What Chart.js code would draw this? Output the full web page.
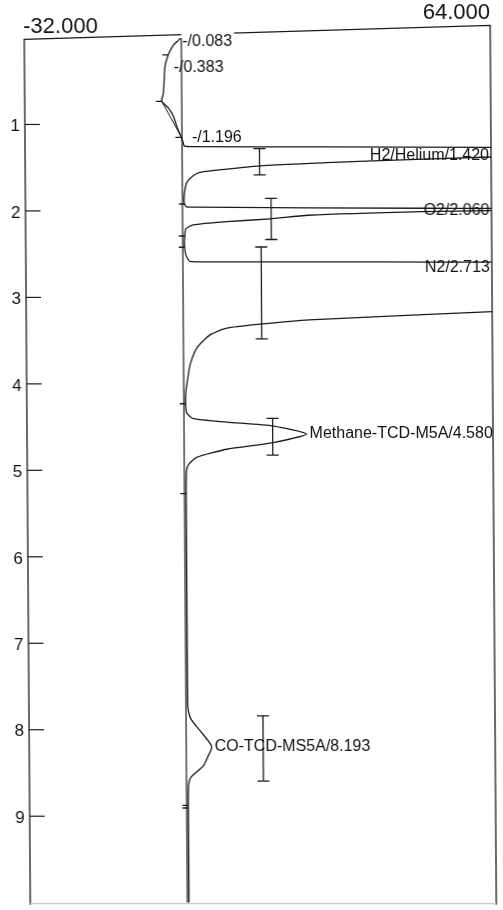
<!DOCTYPE html>
<html>
<head>
<meta charset="utf-8">
<script src="https://cdn.jsdelivr.net/npm/chart.js@4.4.1/dist/chart.umd.min.js"></script>
<style>
  html, body { margin: 0; padding: 0; background: #fff; overflow: hidden; }
  /* the recorder paper sits slightly askew */
  canvas { display: block; transform: skewX(0.4deg); transform-origin: 0 0; }
</style>
</head>
<body>
<canvas id="chart" width="503" height="910"></canvas>
<script>
const FONT = "'Liberation Sans', Arial, Helvetica, sans-serif";
const INK = '#1b1b1b';

// recorder ranges: signal (horizontal) and retention time in minutes (vertical)
const signalRange = [-32, 64];
const timeRange = [0, 10];

// detector trace: retention time (min) and signal
const traceTime = [
  0.000, 0.040, 0.083, 0.195, 0.330, 0.500, 0.636, 0.732, 0.808, 0.905,
  1.020, 1.134, 1.207, 1.248, 1.256, 1.260, 1.264, 1.268, 1.372, 1.376,
  1.422, 1.479, 1.537, 1.555, 1.594, 1.670, 1.785, 1.900, 1.950, 1.957,
  1.969, 1.971, 1.973, 1.995, 1.997, 2.008, 2.050, 2.092, 2.123, 2.161,
  2.207, 2.287, 2.400, 2.514, 2.583, 2.588, 2.590, 2.592, 2.594, 3.160,
  3.164, 3.260, 3.310, 3.356, 3.433, 3.586, 3.778, 3.969, 4.084, 4.200,
  4.334, 4.403, 4.442, 4.488, 4.580, 4.679, 4.756, 4.851, 4.928, 5.005,
  5.300, 6.500, 7.700, 7.801, 7.880, 7.954, 8.030, 8.107, 8.160, 8.193,
  8.240, 8.299, 8.414, 8.490, 8.548, 8.600, 8.663, 8.800, 10.000
];
const traceSignal = [
  0.20, -0.50, -1.30, -2.35, -3.05, -3.25, -3.42, -3.77, -2.42, -1.40,
  -0.72, 0.10, 0.60, 0.80, 2.00, 30.0, 64.0, 72.0, 72.0, 64.0,
  39.7, 16.4, 6.10, 4.00, 2.60, 1.30, 0.80, 0.70, 1.10, 2.60,
  50.0, 64.0, 72.0, 72.0, 64.0, 49.9, 26.2, 18.4, 9.50, 2.55,
  1.00, 0.80, 0.70, 1.00, 1.80, 8.00, 40.0, 64.0, 72.0, 72.0,
  64.0, 26.3, 16.2, 9.30, 5.85, 3.10, 1.70, 1.10, 0.80, 0.70,
  0.90, 2.30, 9.20, 18.8, 25.6, 18.7, 9.10, 2.90, 1.30, 0.80,
  0.70, 0.70, 0.70, 0.90, 1.40, 2.40, 3.50, 4.60, 5.30, 5.60,
  5.40, 4.90, 3.90, 2.40, 1.30, 0.90, 0.75, 0.70, 0.70
];

// straight zero line of the recorder
const zeroLevel = 0.35;

// integration baseline drawn across the negative dip after injection
const dipBaseTime = [0.732, 1.134];
const dipBaseSignal = [-3.77, 0.10];

// integration event marks along the trace
const eventMarkTime = [0.195, 0.732, 1.150, 1.920, 2.290, 2.420, 4.230, 5.270, 8.875, 8.905];

// annotated events near injection
const eventTime = [0.083, 0.383, 1.196];

// identified peaks with their retention-time windows
const peakName = ['H2/Helium', 'O2', 'N2', 'Methane-TCD-M5A', 'CO-TCD-MS5A'];
const peakTime = [1.420, 2.060, 2.713, 4.580, 8.193];
const windowStart = [1.279, 1.854, 2.417, 4.399, 7.839];
const windowEnd = [1.583, 2.330, 3.479, 4.823, 8.594];
const windowLevel = [16.3, 18.6, 16.5, 18.6, 16.2];

// linear read-out of the trace at a given time
function traceAt(t) {
  for (let k = 1; k < traceTime.length; k++) {
    if (t <= traceTime[k]) {
      const t0 = traceTime[k - 1], t1 = traceTime[k];
      const f = (t - t0) / (t1 - t0);
      return traceSignal[k - 1] + f * (traceSignal[k] - traceSignal[k - 1]);
    }
  }
  return traceSignal[traceSignal.length - 1];
}

const recorderPlugin = {
  id: 'recorder',
  beforeDatasetsDraw(chart) {
    const { ctx, chartArea: a, scales: { x, y } } = chart;
    const yL = a.top + 1.3, yR = a.top - 12.7;
    ctx.save();
    // paper frame, top edge running up toward the right
    ctx.strokeStyle = INK;
    ctx.lineWidth = 1.3;
    ctx.beginPath();
    ctx.moveTo(a.left, a.bottom + 2);
    ctx.lineTo(a.left, yL);
    ctx.lineTo(a.right, yR);
    ctx.lineTo(a.right, a.bottom + 2);
    ctx.stroke();
    ctx.strokeStyle = '#c8c8c8';
    ctx.beginPath();
    ctx.moveTo(a.left, a.bottom + 1);
    ctx.lineTo(a.right, a.bottom + 1);
    ctx.stroke();
    // time ticks pointing into the plot
    ctx.strokeStyle = INK;
    ctx.lineWidth = 1.2;
    y.ticks.forEach((tk, i) => {
      if (tk.label == null) return;
      const py = y.getPixelForTick(i);
      ctx.beginPath();
      ctx.moveTo(a.left, py);
      ctx.lineTo(a.left + 15, py);
      ctx.stroke();
    });
    // signal range labels above the frame
    ctx.fillStyle = '#111';
    ctx.font = `22px ${FONT}`;
    ctx.textBaseline = 'alphabetic';
    ctx.textAlign = 'left';
    ctx.fillText(x.min.toFixed(3), a.left - 1, yL - 6.5);
    ctx.textAlign = 'right';
    ctx.fillText(x.max.toFixed(3), a.right, yR - 6);
    // event annotations
    ctx.font = `16px ${FONT}`;
    ctx.textAlign = 'left';
    eventTime.forEach(t => {
      const txt = '-/' + t.toFixed(3);
      const px = x.getPixelForValue(traceAt(t)) + 9;
      const py = y.getPixelForValue(t) + 1;
      const w = ctx.measureText(txt).width;
      ctx.fillStyle = '#fff';
      ctx.fillRect(px - 1, py - 14, w + 3, 17);
      ctx.fillStyle = '#111';
      ctx.fillText(txt, px, py);
    });
    ctx.restore();
  },
  afterDatasetsDraw(chart) {
    const { ctx, chartArea: a, scales: { x, y } } = chart;
    ctx.save();
    ctx.fillStyle = '#111';
    ctx.font = `16px ${FONT}`;
    peakName.forEach((name, i) => {
      const txt = name + '/' + peakTime[i].toFixed(3);
      let apex = -Infinity;
      traceTime.forEach((t, k) => {
        if (t >= windowStart[i] && t <= windowEnd[i]) apex = Math.max(apex, traceSignal[k]);
      });
      const py = y.getPixelForValue(peakTime[i]);
      if (apex >= x.max) {
        // off-scale peak: name sits against the right edge
        ctx.textAlign = 'right';
        ctx.textBaseline = 'alphabetic';
        ctx.fillText(txt, a.right - 2, py - 1);
      } else {
        ctx.textAlign = 'left';
        ctx.textBaseline = 'middle';
        ctx.fillText(txt, x.getPixelForValue(apex) + 3, py);
      }
    });
    ctx.restore();
  }
};

const lineStyle = { showLine: true, pointRadius: 0, borderColor: INK, fill: false };

const datasets = [
  Object.assign({}, lineStyle, {
    label: 'zero',
    data: timeRange.map(t => ({ x: zeroLevel, y: t })),
    borderWidth: 1.2
  }),
  Object.assign({}, lineStyle, {
    label: 'dip baseline',
    data: dipBaseTime.map((t, i) => ({ x: dipBaseSignal[i], y: t })),
    borderWidth: 1
  }),
  Object.assign({}, lineStyle, {
    label: 'trace',
    data: traceTime.map((t, i) => ({ x: traceSignal[i], y: t })),
    borderWidth: 1.3,
    tension: 0.2
  }),
  {
    label: 'events',
    showLine: false,
    data: eventMarkTime.map(t => ({ x: traceAt(t) - 0.6, y: t })),
    pointStyle: 'line',
    pointRadius: 3,
    pointBorderWidth: 1.3,
    pointBorderColor: INK
  }
].concat(windowLevel.map((lv, i) => ({
  label: 'window ' + peakName[i],
  showLine: true,
  data: [{ x: lv, y: windowStart[i] }, { x: lv, y: windowEnd[i] }],
  borderColor: INK,
  borderWidth: 1.3,
  pointStyle: 'line',
  pointRadius: 6,
  pointBorderWidth: 1.3,
  pointBorderColor: INK
})));

new Chart(document.getElementById('chart'), {
  type: 'scatter',
  data: { datasets },
  options: {
    responsive: false,
    animation: false,
    devicePixelRatio: 1,
    events: [],
    layout: { padding: { top: 38, right: 13, bottom: 2, left: 0 } },
    plugins: { legend: { display: false }, tooltip: { enabled: false } },
    scales: {
      x: { type: 'linear', min: signalRange[0], max: signalRange[1], display: false },
      y: {
        type: 'linear',
        reverse: true,
        min: timeRange[0],
        max: timeRange[1],
        position: 'left',
        grid: { display: false, drawTicks: false },
        border: { display: false },
        ticks: {
          stepSize: 1,
          padding: 5,
          labelOffset: 2,
          color: '#111',
          font: { family: FONT, size: 17 },
          callback: v => (v > timeRange[0] && v < timeRange[1]) ? String(v) : null
        },
        afterFit: s => { s.width = 24; s.paddingTop = 0; s.paddingBottom = 0; }
      }
    }
  },
  plugins: [recorderPlugin]
});
</script>
</body>
</html>
